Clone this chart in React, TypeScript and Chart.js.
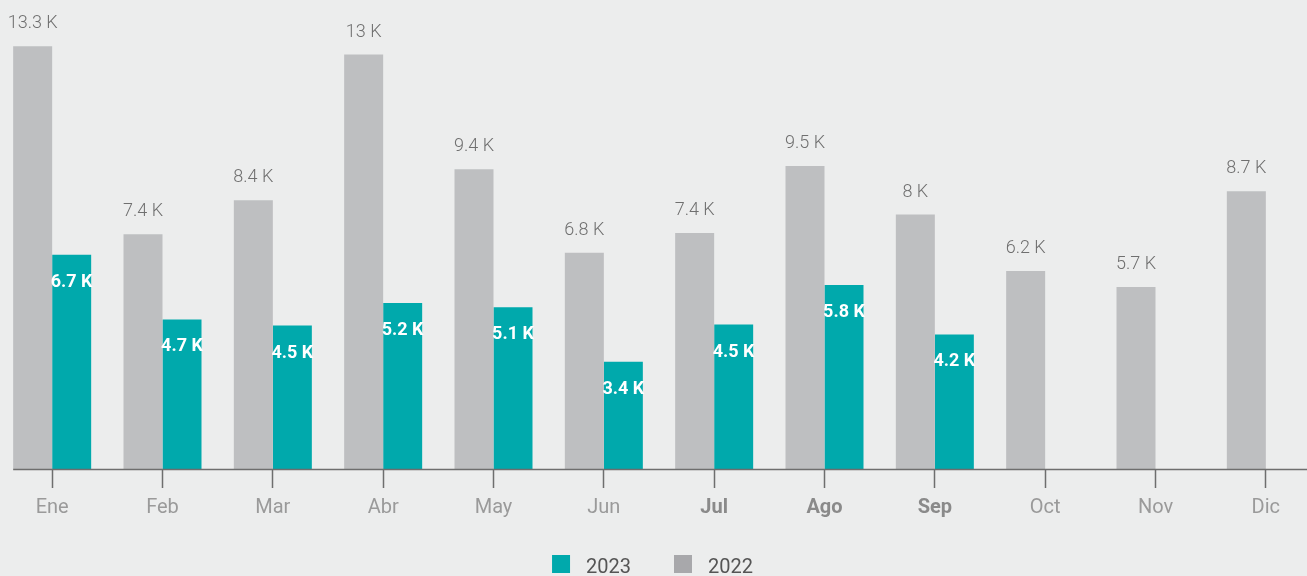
import React, { useEffect, useRef } from 'react';
import { Chart, registerables } from 'chart.js';

Chart.register(...registerables);

const months = ['Ene', 'Feb', 'Mar', 'Abr', 'May', 'Jun', 'Jul', 'Ago', 'Sep', 'Oct', 'Nov', 'Dic'];
const boldMonths = ['Jul', 'Ago', 'Sep'];
const values2022 = [13260, 7360, 8430, 13000, 9400, 6780, 7400, 9500, 7980, 6210, 5710, 8710];
const values2023 = [6720, 4690, 4500, 5210, 5070, 3360, 4530, 5770, 4220, null, null, null];
const series2022Label = '2022';
const series2023Label = '2023';

const BG = '#ECEDED';
const GRAY = '#BEBFC1';
const GRAY_LEGEND = '#A8A8AB';
const TEAL = '#00A9AC';

function fmt(v: number): string {
  const k = Math.round(v / 100) / 10;
  return (Number.isInteger(k) ? String(k) : k.toFixed(1)) + ' K';
}

const labelPlugin = {
  id: 'valueLabels',
  afterDatasetsDraw(chart: any) {
    const ctx = chart.ctx;
    ctx.save();
    const meta0 = chart.getDatasetMeta(0);
    const first = meta0.data[0];
    if (first) {
      const p = first.getProps(['x', 'width'], true);
      const y = chart.chartArea.bottom + 0.5;
      ctx.strokeStyle = '#6e6e6e';
      ctx.lineWidth = 1.5;
      ctx.beginPath();
      ctx.moveTo(p.x - p.width / 2, y);
      ctx.lineTo(chart.chartArea.right, y);
      ctx.stroke();
    }
    chart.data.datasets.forEach((ds: any, di: number) => {
      const meta = chart.getDatasetMeta(di);
      meta.data.forEach((bar: any, i: number) => {
        const v = ds.data[i];
        if (v == null) return;
        const { x, y } = bar.getProps(['x', 'y'], true);
        ctx.textAlign = 'center';
        ctx.textBaseline = 'alphabetic';
        if (ds.label === series2022Label) {
          ctx.font = '300 18px Roboto';
          ctx.fillStyle = '#6f6f6f';
          ctx.fillText(fmt(v), x, y - 18);
        } else {
          ctx.font = 'bold 18px Roboto';
          ctx.fillStyle = '#ffffff';
          ctx.fillText(fmt(v), x, y + 32);
        }
      });
    });
    ctx.restore();
  },
};

// Legend drawn at the bottom (2023 first, then 2022)
const legendPlugin = {
  id: 'bottomLegend',
  afterDraw(chart: any) {
    const ctx = chart.ctx;
    const items = [
      { text: series2023Label, color: TEAL },
      { text: series2022Label, color: GRAY_LEGEND },
    ];
    const box = 18;
    const boxGap = 16;
    const itemGap = 43;
    ctx.save();
    ctx.font = '20px Roboto';
    const widths = items.map((it) => box + boxGap + ctx.measureText(it.text).width);
    const total = widths.reduce((a, b) => a + b, 0) + itemGap * (items.length - 1);
    let x = chart.width / 2 - 6.5 - total / 2;
    const boxTop = chart.chartArea.bottom + 86;
    items.forEach((it, i) => {
      ctx.fillStyle = it.color;
      ctx.fillRect(x, boxTop, box, box);
      ctx.fillStyle = '#555555';
      ctx.textAlign = 'left';
      ctx.textBaseline = 'alphabetic';
      ctx.fillText(it.text, x + box + boxGap, boxTop + box);
      x += widths[i] + itemGap;
    });
    ctx.restore();
  },
};

export default function App() {
  const ref = useRef<HTMLCanvasElement>(null);

  useEffect(() => {
    document.body.style.margin = '0';
    document.body.style.background = BG;
    const canvas = ref.current;
    if (!canvas) return;
    const chart = new Chart(canvas, {
      type: 'bar',
      data: {
        labels: months,
        datasets: [
          {
            label: series2022Label,
            data: values2022,
            backgroundColor: GRAY,
            categoryPercentage: 0.707,
            barPercentage: 1,
          },
          {
            label: series2023Label,
            data: values2023,
            backgroundColor: TEAL,
            categoryPercentage: 0.707,
            barPercentage: 1,
          },
        ],
      },
      options: {
        responsive: false,
        animation: false,
        devicePixelRatio: 1,
        layout: { padding: { top: 0, left: 0, right: 0, bottom: 57 } },
        plugins: {
          tooltip: { enabled: false },
          legend: { display: false },
        },
        scales: {
          x: {
            offset: true,
            border: { display: false },
            grid: {
              display: true,
              drawOnChartArea: false,
              drawTicks: true,
              tickLength: 19,
              tickWidth: 1.5,
              tickColor: '#6e6e6e',
              offset: false,
            },
            ticks: {
              padding: 8,
              color: (c: any) => (boldMonths.includes(months[c.index]) ? '#8a8a8a' : '#9a9a9a'),
              font: (c: any) => ({
                family: 'Roboto',
                size: 20,
                weight: boldMonths.includes(months[c.index]) ? 'bold' : 'normal',
              }),
            },
          },
          y: { display: false, min: 0, max: 14710 },
        },
      },
      plugins: [labelPlugin, legendPlugin],
    } as any);
    return () => chart.destroy();
  }, []);

  return (
    <div style={{ width: 1307, height: 576, overflow: 'hidden', position: 'relative', background: BG }}>
      <canvas
        ref={ref}
        width={1324}
        height={585}
        style={{ position: 'absolute', left: -3, top: 0, width: 1324, height: 585 }}
      />
    </div>
  );
}
